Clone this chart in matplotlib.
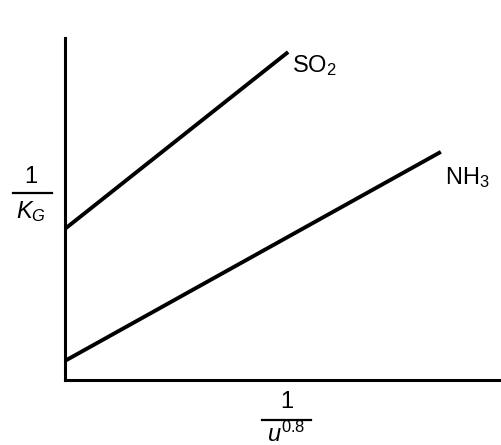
import matplotlib
matplotlib.use("Agg")
import matplotlib.pyplot as plt
from matplotlib.lines import Line2D

plt.rcParams['font.family'] = ['Liberation Sans', 'DejaVu Sans']
plt.rcParams['mathtext.fontset'] = 'custom'
plt.rcParams['mathtext.rm'] = 'Liberation Sans'
plt.rcParams['mathtext.it'] = 'Liberation Sans:italic'

# Data (normalized axis units)
series_names = ['SO$_2$', 'NH$_3$']
so2_x = [0.0, 0.513]
so2_y = [0.442, 0.959]
nh3_x = [0.0, 0.864]
nh3_y = [0.056, 0.667]

W, H = 502, 445
fig = plt.figure(figsize=(W / 100, H / 100), dpi=100)
ax = fig.add_axes([65 / W, 1 - 380 / H, 437 / W, 342 / H])
ax.set_xlim(0, 437 / 435)
ax.set_ylim(0, 1)
for s in ['top', 'right']:
    ax.spines[s].set_visible(False)
for s in ['left', 'bottom']:
    ax.spines[s].set_linewidth(2.2)
    ax.spines[s].set_color('black')
ax.set_xticks([])
ax.set_yticks([])

ax.plot(so2_x, so2_y, color='black', lw=2.8, solid_capstyle='butt', clip_on=False)
ax.plot(nh3_x, nh3_y, color='black', lw=2.8, solid_capstyle='butt', clip_on=False)

def fx(px):
    return px / W

def fy(py):
    return 1 - py / H

fig.text(fx(292), fy(66), series_names[0], fontsize=17, ha='left', va='center')
fig.text(fx(445), fy(178), series_names[1], fontsize=17, ha='left', va='center')

# y label: 1 / K_G
fig.text(fx(31), fy(177), '1', fontsize=17, ha='center', va='center')
fig.add_artist(Line2D([fx(13), fx(52)], [fy(193), fy(193)], transform=fig.transFigure,
                      color='black', lw=1.6))
fig.text(fx(31), fy(218), '$K_G$', fontsize=17, ha='center', va='baseline')

# x label: 1 / u^0.8
fig.text(fx(287), fy(402), '1', fontsize=17, ha='center', va='center')
fig.add_artist(Line2D([fx(262), fx(311)], [fy(420), fy(420)], transform=fig.transFigure,
                      color='black', lw=1.6))
fig.text(fx(286), fy(442), '$u^{0.8}$', fontsize=17, ha='center', va='baseline')

fig.savefig('out.png', dpi=100)
